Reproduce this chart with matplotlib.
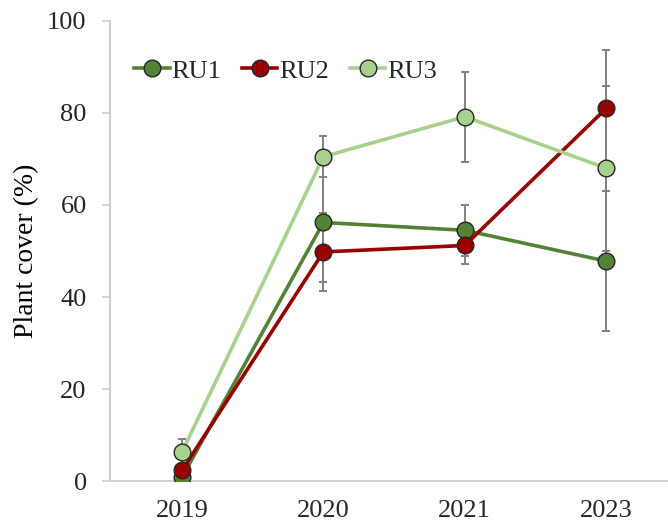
import matplotlib.pyplot as plt

plt.rcParams['font.family'] = ['Liberation Serif', 'DejaVu Serif']

years = ['2019', '2020', '2021', '2023']

ru1_mean = [0.8, 56.2, 54.5, 47.8]
ru1_err = [0.5, 12.9, 5.5, 15.2]

ru2_mean = [2.3, 49.8, 51.2, 81.0]
ru2_err = [0.6, 8.4, 4.0, 12.7]

ru3_mean = [6.3, 70.5, 79.2, 68.0]
ru3_err = [2.8, 4.5, 9.8, 17.9]

series = [
    ('RU1', ru1_mean, ru1_err, '#548235'),
    ('RU2', ru2_mean, ru2_err, '#990000'),
    ('RU3', ru3_mean, ru3_err, '#a9d18e'),
]

fig = plt.figure(figsize=(6.68, 5.27), dpi=100)
ax = fig.add_axes([110 / 668, 46 / 527, 557 / 668, 460 / 527])

x = list(range(len(years)))

# error bars first so the lines and markers sit on top
for name, mean, err, color in series:
    ax.errorbar(x, mean, yerr=err, fmt='none', ecolor='#808080', elinewidth=1.4,
                capsize=3, capthick=1.4, zorder=2)

for name, mean, err, color in series:
    ax.plot(x, mean, color=color, linewidth=2.6, marker='o', markersize=12,
            markerfacecolor=color, markeredgecolor='#262626', markeredgewidth=1.0,
            label=name, zorder=3)

ax.set_xlim(-0.509, 3.43)
ax.set_ylim(0, 100)
ax.set_xticks(x)
ax.set_xticklabels(years)
ax.set_yticks([0, 20, 40, 60, 80, 100])
ax.set_ylabel('Plant cover (%)', fontsize=20, labelpad=6)

ax.tick_params(axis='x', length=0, pad=14, labelsize=19, colors='#262626')
ax.tick_params(axis='y', length=5.8, width=1.2, color='#d0d0d0', pad=11, labelsize=19,
               labelcolor='#262626')

for side in ['top', 'right']:
    ax.spines[side].set_visible(False)
for side in ['left', 'bottom']:
    ax.spines[side].set_color('#d0d0d0')
    ax.spines[side].set_linewidth(1.4)

leg = ax.legend(loc='upper left', bbox_to_anchor=(0.024, 0.94), ncol=3, frameon=False,
                fontsize=19, handlelength=1.35, handletextpad=0.05, columnspacing=0.8,
                borderaxespad=0)
for text in leg.get_texts():
    text.set_color('#262626')

fig.savefig('out.png', dpi=100)
